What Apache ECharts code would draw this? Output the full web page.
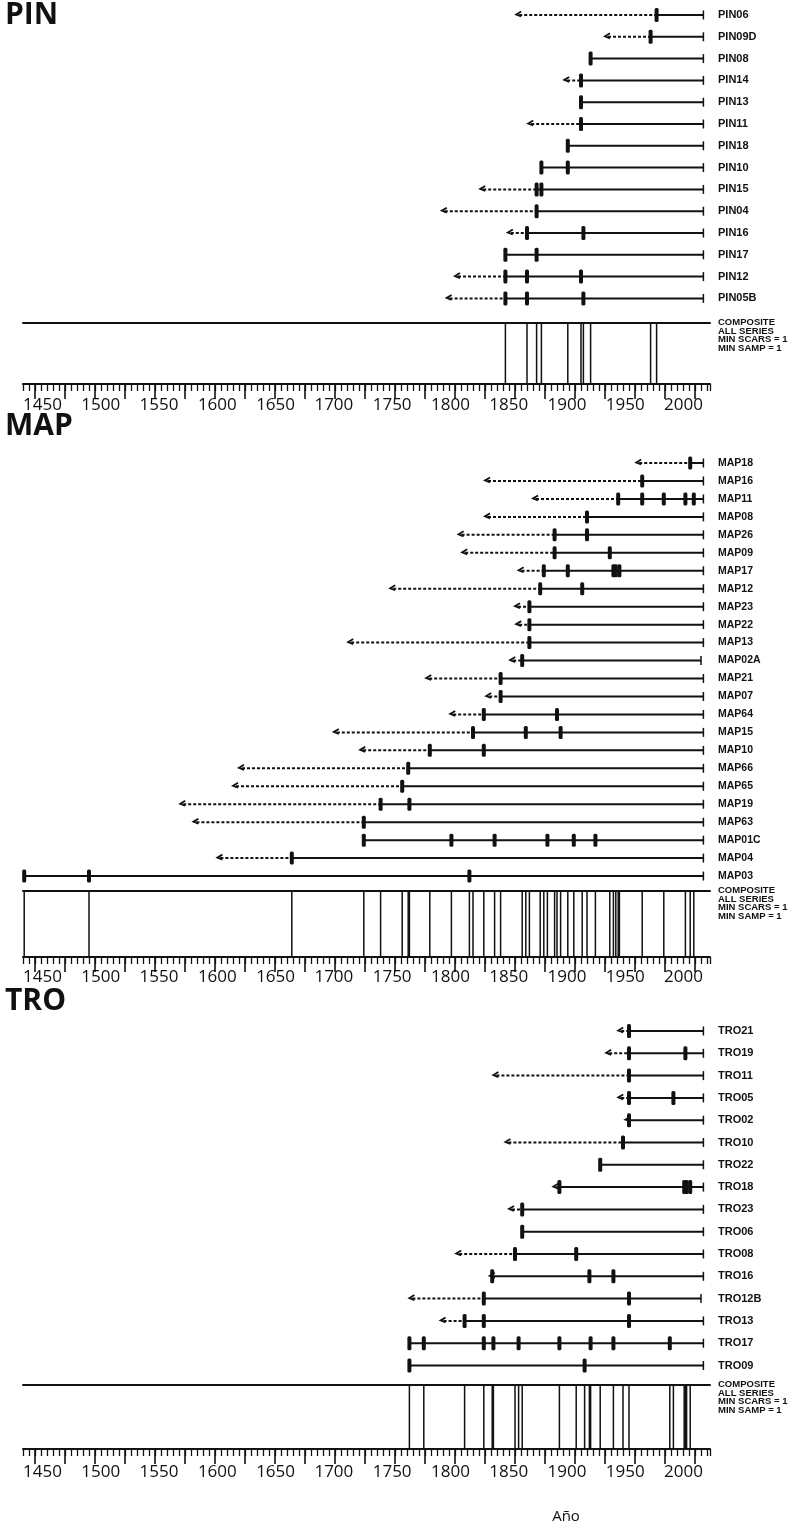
<!DOCTYPE html>
<html>
<head>
<meta charset="utf-8">
<script src="https://cdn.jsdelivr.net/npm/echarts@6/dist/echarts.min.js"></script>
<style>
  html, body { margin: 0; padding: 0; background: #ffffff; }
  #chart { width: 805px; height: 1528px; }
</style>
</head>
<body>
<div id="chart"></div>
<script>
// ---- Fire-scar records -------------------------------------------------
// inner: innermost ring year (dashed segment ending in an arrow); null when the record begins at a scar
// scars: fire-scar years; end: outermost (bark) year

// PIN
const pinNames = ['PIN06', 'PIN09D', 'PIN08', 'PIN14', 'PIN13', 'PIN11', 'PIN18', 'PIN10', 'PIN15', 'PIN04', 'PIN16', 'PIN17', 'PIN12', 'PIN05B'];
const pinInner = [1851, 1925, null, 1891, null, 1861, null, null, 1821, 1789, 1844, null, 1800, 1793];
const pinScars = [
  [1968], [1963], [1913], [1905], [1905], [1905], [1894], [1872, 1894],
  [1868, 1872], [1868], [1860, 1907], [1842, 1868], [1842, 1860, 1905], [1842, 1860, 1907]
];
const pinEnd = [2007, 2007, 2007, 2007, 2007, 2007, 2007, 2007, 2007, 2007, 2007, 2007, 2007, 2007];

// MAP
const mapNames = ['MAP18', 'MAP16', 'MAP11', 'MAP08', 'MAP26', 'MAP09', 'MAP17', 'MAP12', 'MAP23', 'MAP22', 'MAP13', 'MAP02A',
  'MAP21', 'MAP07', 'MAP64', 'MAP15', 'MAP10', 'MAP66', 'MAP65', 'MAP19', 'MAP63', 'MAP01C', 'MAP04', 'MAP03'];
const mapInner = [1951, 1825, 1865, 1825, 1803, 1806, 1853, 1746, 1850, 1851, 1711, 1846,
  1776, 1826, 1796, 1699, 1721, 1620, 1615, 1571, 1582, null, 1602, null];
const mapScars = [
  [1996], [1956], [1936, 1956, 1974, 1992, 1999], [1910], [1883, 1910], [1883, 1929],
  [1874, 1894, 1932, 1934, 1937], [1871, 1906], [1862], [1862], [1862], [1856],
  [1838], [1838], [1824, 1885], [1815, 1859, 1888], [1779, 1824], [1761],
  [1756], [1738, 1762], [1724], [1724, 1797, 1833, 1877, 1899, 1917], [1664], [1441, 1495, 1812]
];
const mapEnd = [2007, 2007, 2007, 2007, 2007, 2007, 2007, 2007, 2007, 2007, 2007, 2005,
  2007, 2007, 2007, 2007, 2007, 2007, 2007, 2007, 2007, 2007, 2007, 2007];

// TRO
const troNames = ['TRO21', 'TRO19', 'TRO11', 'TRO05', 'TRO02', 'TRO10', 'TRO22', 'TRO18', 'TRO23', 'TRO06', 'TRO08', 'TRO16',
  'TRO12B', 'TRO13', 'TRO17', 'TRO09'];
const troInner = [1936, 1926, 1832, 1936, 1942, 1842, null, 1882, 1845, null, 1801, 1829, 1762, 1788, null, null];
const troScars = [
  [1945], [1945, 1992], [1945], [1945, 1982], [1945], [1940], [1921], [1887, 1991, 1993, 1996],
  [1856], [1856], [1850, 1901], [1831, 1912, 1932], [1824, 1945], [1808, 1824, 1945],
  [1762, 1774, 1824, 1832, 1853, 1887, 1913, 1932, 1979], [1762, 1908]
];
const troEnd = [2007, 2007, 2007, 2007, 2007, 2007, 2007, 2007, 2007, 2007, 2007, 2007, 2005, 2007, 2007, 2007];

// Time axis
const yearMin = 1440;
const yearMax = 2012.5;
const labelYears = [1450, 1500, 1550, 1600, 1650, 1700, 1750, 1800, 1850, 1900, 1950, 2000];
const majorTickYears = [1450, 1475, 1500, 1525, 1550, 1575, 1600, 1625, 1650, 1675, 1700, 1725, 1750,
  1775, 1800, 1825, 1850, 1875, 1900, 1925, 1950, 1975, 2000];
const compositeNote = 'COMPOSITE\nALL SERIES\nMIN SCARS = 1\nMIN SAMP = 1';

// ---- Layout ------------------------------------------------------------
const plotLeft = 23, plotRight = 95;
const panels = [
  { title: 'PIN', names: pinNames, inner: pinInner, scars: pinScars, end: pinEnd },
  { title: 'MAP', names: mapNames, inner: mapInner, scars: mapScars, end: mapEnd },
  { title: 'TRO', names: troNames, inner: troInner, scars: troScars, end: troEnd }
];
const layout = [
  { titleY: 17, rowTop: 15, rowStep: 21.8, compTop: 323, rulerY: 384, labelY: 406, nameSize: 11, scarH: 14 },
  { titleY: 428, rowTop: 463, rowStep: 17.96, compTop: 891, rulerY: 957, labelY: 978, nameSize: 10.5, scarH: 13 },
  { titleY: 1003, rowTop: 1031, rowStep: 22.3, compTop: 1385, rulerY: 1449, labelY: 1473, nameSize: 11, scarH: 14 }
];
const INK = '#111111';

const grids = [], xAxes = [], yAxes = [], series = [], graphics = [];

function rowRenderer(p, L) {
  return function (params, api) {
    const i = api.value(1);
    const y = api.coord([yearMin, i])[1];
    const X = yr => api.coord([yr, i])[0];
    const scars = p.scars[i];
    const start = scars[0];
    const end = p.end[i];
    const kids = [];
    if (p.inner[i] != null) {
      const ax = X(p.inner[i]);
      kids.push({ type: 'line', shape: { x1: ax + 3, y1: y, x2: X(start), y2: y },
        style: { stroke: INK, lineWidth: 2, lineDash: [3, 2] } });
      kids.push({ type: 'polyline', shape: { points: [[ax + 5, y - 3.5], [ax, y - 0.5], [ax + 5, y + 1.5]] },
        style: { stroke: INK, lineWidth: 1.8, fill: null } });
    }
    kids.push({ type: 'line', shape: { x1: X(start), y1: y, x2: X(end), y2: y },
      style: { stroke: INK, lineWidth: 2 } });
    kids.push({ type: 'line', shape: { x1: X(end), y1: y - 4.5, x2: X(end), y2: y + 4.5 },
      style: { stroke: INK, lineWidth: 1.5 } });
    scars.forEach(s => {
      kids.push({ type: 'rect', shape: { x: X(s) - 2, y: y - L.scarH / 2, width: 4, height: L.scarH, r: 1.5 },
        style: { fill: INK } });
    });
    return { type: 'group', children: kids };
  };
}

function compositeRenderer(params, api) {
  const yr = api.value(0);
  const top = api.coord([yr, 1]);
  const bot = api.coord([yr, 0]);
  return { type: 'line', shape: { x1: top[0], y1: top[1], x2: bot[0], y2: bot[1] },
    style: { stroke: INK, lineWidth: 1.5 } };
}

panels.forEach((p, k) => {
  const L = layout[k];
  const n = p.names.length;

  // rows grid
  const gRows = grids.length;
  grids.push({ left: plotLeft, right: plotRight, top: L.rowTop - L.rowStep / 2, height: n * L.rowStep });
  xAxes.push({ gridIndex: gRows, type: 'value', min: yearMin, max: yearMax, show: false });
  yAxes.push({
    gridIndex: gRows, type: 'category', inverse: true, data: p.names, position: 'right',
    axisLine: { show: false }, axisTick: { show: false }, splitLine: { show: false },
    axisLabel: { margin: 8, color: INK, fontFamily: 'Liberation Sans', fontWeight: 'bold', fontSize: L.nameSize }
  });
  series.push({
    type: 'custom', xAxisIndex: xAxes.length - 1, yAxisIndex: yAxes.length - 1,
    data: p.names.map((nm, i) => [yearMin, i]), encode: { x: 0, y: 1 },
    renderItem: rowRenderer(p, L), silent: true, clip: false
  });

  // composite + ruler grid
  const gComp = grids.length;
  grids.push({ left: plotLeft, right: plotRight, top: L.compTop, height: L.rulerY - L.compTop });
  xAxes.push({ gridIndex: gComp, type: 'value', min: yearMin, max: yearMax, position: 'top',
    axisLine: { show: true, onZero: false, lineStyle: { color: INK, width: 2 } },
    axisTick: { show: false }, axisLabel: { show: false }, splitLine: { show: false } });
  const xComp = xAxes.length - 1;
  xAxes.push({ gridIndex: gComp, type: 'value', min: yearMin, max: yearMax, interval: 5, position: 'bottom',
    axisLine: { show: true, onZero: false, lineStyle: { color: INK, width: 2 } },
    axisTick: { show: true, length: 7, lineStyle: { color: INK, width: 1.3 } },
    axisLabel: { show: false }, splitLine: { show: false } });
  xAxes.push({ gridIndex: gComp, type: 'value', min: yearMin, max: yearMax, position: 'bottom',
    axisLine: { show: false, onZero: false },
    axisTick: { show: true, length: 15, customValues: majorTickYears, lineStyle: { color: INK, width: 1.6 } },
    axisLabel: { show: false }, splitLine: { show: false } });
  yAxes.push({ gridIndex: gComp, type: 'value', min: 0, max: 1, show: false });
  const yComp = yAxes.length - 1;
  const compYears = Array.from(new Set(p.scars.flat())).sort((a, b) => a - b);
  series.push({
    type: 'custom', xAxisIndex: xComp, yAxisIndex: yComp,
    data: compYears.map(yr => [yr, 0]), encode: { x: 0, y: 1 },
    renderItem: compositeRenderer, silent: true, clip: false
  });

  // year labels
  const gLab = grids.length;
  grids.push({ left: 42.5, right: 805 - 683.5, top: L.labelY - 12, height: 2 });
  xAxes.push({ gridIndex: gLab, type: 'value', min: labelYears[0], max: labelYears[labelYears.length - 1],
    axisLine: { show: false }, axisTick: { show: false }, splitLine: { show: false },
    axisLabel: { show: true, customValues: labelYears, formatter: v => String(v), margin: 1,
      color: INK, fontFamily: 'Open Sans', fontSize: 17 } });
  yAxes.push({ gridIndex: gLab, type: 'value', show: false });

  // panel title and composite note
  graphics.push({ type: 'text', left: 5, top: L.titleY - 17,
    style: { text: p.title, font: 'bold 30px "Open Sans"', fill: INK } });
  graphics.push({ type: 'text', x: 718, y: L.compTop - 5,
    style: { text: compositeNote, font: 'bold 9.5px "Liberation Sans"', lineHeight: 8.6, fill: INK } });
});

graphics.push({ type: 'text', x: 566, y: 1517,
  style: { text: 'Año', font: '15px "Open Sans"', fill: INK, textAlign: 'center', textVerticalAlign: 'middle' } });

const chart = echarts.init(document.getElementById('chart'), null, { renderer: 'canvas' });
chart.setOption({
  animation: false,
  backgroundColor: '#ffffff',
  grid: grids,
  xAxis: xAxes,
  yAxis: yAxes,
  series: series,
  graphic: graphics
});
</script>
</body>
</html>
